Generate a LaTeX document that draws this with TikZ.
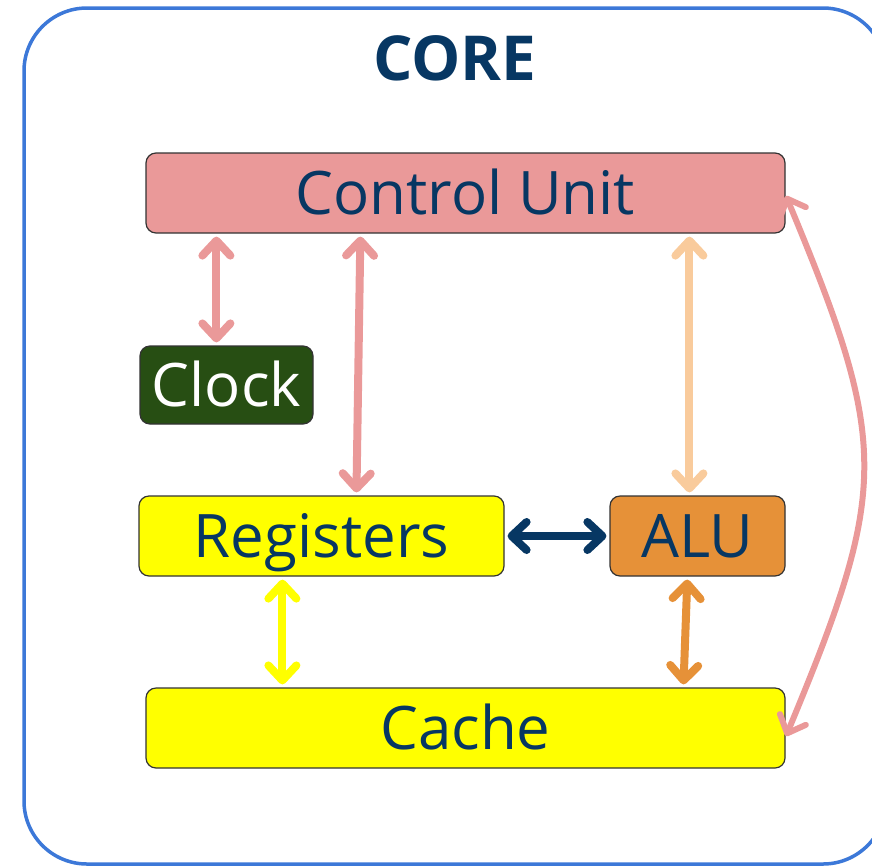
\documentclass[tikz,border=0pt]{standalone}
\usepackage{fontspec}
\setmainfont{Open Sans}
\usetikzlibrary{arrows.meta}

\definecolor{navy}{HTML}{073763}
\definecolor{rosa}{HTML}{EA9999}
\definecolor{peach}{HTML}{F9CB9C}
\definecolor{amber}{HTML}{E69138}
\definecolor{leaf}{HTML}{274E13}
\definecolor{frame}{HTML}{3C78D8}
\definecolor{lemon}{HTML}{FFFF00}

\tikzset{
  unit/.style={draw=black!80, line width=1.2pt, rounded corners=10pt, inner sep=0pt,
    text=navy, font=\fontsize{60}{72}\selectfont, text height=43pt, text depth=0pt},
  link/.style={line width=8pt, line cap=round, line join=round,
    {Straight Barb[length=15pt,width=28pt,round]}-{Straight Barb[length=15pt,width=28pt,round]},
    shorten <=3pt, shorten >=3pt},
}

\begin{document}
\begin{tikzpicture}[x=1pt,y=-1pt]
\useasboundingbox (0,0) rectangle (872,865);
\draw[frame, line width=3.5pt, rounded corners=63pt] (24,8) rectangle (886,864); % outer frame
\node[text=navy, font=\fontsize{62}{74}\selectfont\bfseries] (title) at (455,58) {CORE};

% the blocks
\node[unit, fill=rosa, minimum width=639pt, minimum height=80pt] (ctrl) at (465.5,193) {Control Unit};
\node[unit, fill=leaf, text=white, minimum width=173pt, minimum height=78pt] (clock) at (226.5,385) {Clock};
\node[unit, fill=lemon, minimum width=365pt, minimum height=80pt] (reg) at (321.5,536) {Registers};
\node[unit, fill=amber, minimum width=175pt, minimum height=80pt] (alu) at (697.5,536) {ALU};
\node[unit, fill=lemon, minimum width=639pt, minimum height=80pt] (cache) at (465.5,728) {Cache};

% the links
\draw[link, rosa] ([xshift=71pt]ctrl.south west) -- ([xshift=77pt]clock.north west);
\draw[link, rosa] ([xshift=215pt]ctrl.south west) -- ([xshift=218pt]reg.north west);
\draw[link, peach] ([xshift=544pt]ctrl.south west) -- ([xshift=80pt]alu.north west);
\draw[link, navy] (reg.east) -- (alu.west);
\draw[link, lemon] ([xshift=144pt]reg.south west) -- ([xshift=137pt]cache.north west);
\draw[link, amber] ([xshift=78pt]alu.south west) -- ([xshift=538pt]cache.north west);
\draw[link, rosa, line width=6pt, shorten <=1pt, shorten >=1pt] ([yshift=-2pt]ctrl.east) .. controls +(104,250) and +(104,-250) .. ([yshift=-9pt]cache.east);
\end{tikzpicture}
\end{document}
